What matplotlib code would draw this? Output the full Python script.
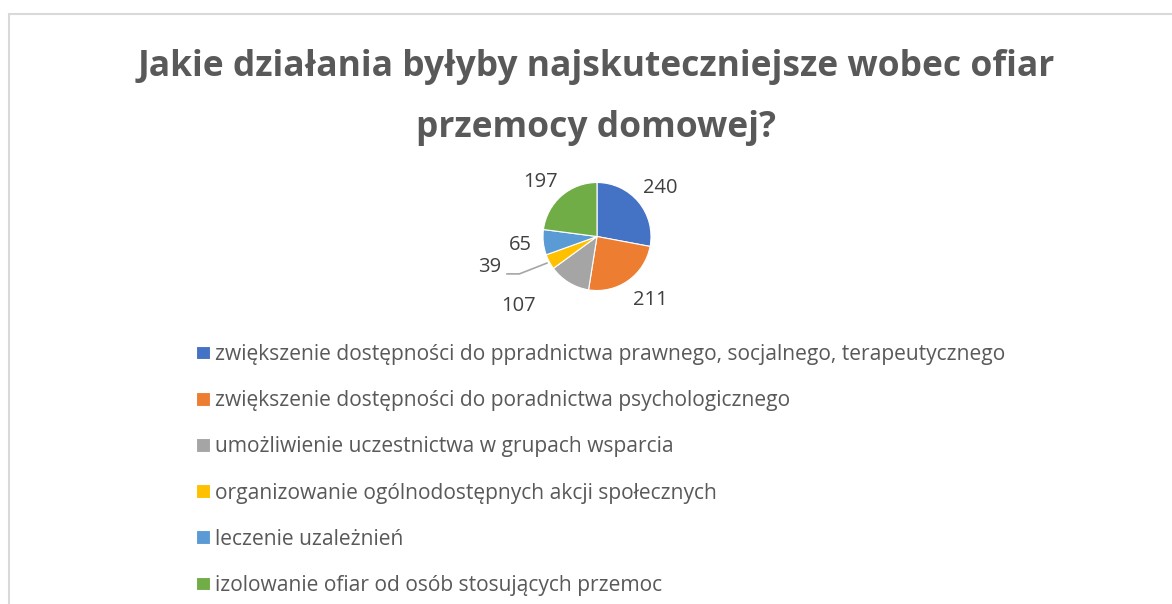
import numpy as np
import matplotlib.pyplot as plt
from matplotlib.patches import Rectangle

title = 'Jakie działania byłyby najskuteczniejsze wobec ofiar\nprzemocy domowej?'
categories = [
    'zwiększenie dostępności do ppradnictwa prawnego, socjalnego, terapeutycznego',
    'zwiększenie dostępności do poradnictwa psychologicznego',
    'umożliwienie uczestnictwa w grupach wsparcia',
    'organizowanie ogólnodostępnych akcji społecznych',
    'leczenie uzależnień',
    'izolowanie ofiar od osób stosujących przemoc',
]
values = [240, 211, 107, 39, 65, 197]
colors = ['#4472C4', '#ED7D31', '#A5A5A5', '#FFC000', '#5B9BD5', '#70AD47']

W, H = 1172, 604
fig = plt.figure(figsize=(W/100, H/100), dpi=100)
plt.rcParams['font.family'] = ['Open Sans', 'DejaVu Sans']

# chart frame (left and top edges visible)
fig.patches.append(Rectangle((9/W, -0.1), 1.2, (H - 14)/H + 0.1, transform=fig.transFigure,
                             fill=False, ec='#D9D9D9', lw=1.5))

fig.text(596/W, 1 - 97.5/H, title, ha='center', va='center', fontsize=25.5,
         fontweight='bold', color='#595959', linespacing=1.9)

# pie: centre (597, 236.5) px, radius 54 px
R = 54
cx, cy = 597, 236.5
ax = fig.add_axes([(cx - R)/W, 1 - (cy + R)/H, 2*R/W, 2*R/H])
wedges, _ = ax.pie(values, colors=colors, startangle=90, counterclock=False,
                   wedgeprops=dict(lw=0.8, ec='white'))
ax.set_xlim(-1, 1)
ax.set_ylim(-1, 1)

dist = [1.48, 1.53, 1.94, 1.95, 1.42, 1.46]
shift = [-2, 5, -17, 0, 0, 5]
total = sum(values)
start = 90.0
for i, v in enumerate(values):
    mid = start - 360*v/total/2
    start -= 360*v/total
    if i == 3:
        # label with leader line
        m = np.deg2rad(mid)
        ex, ey = 1.05*np.cos(m), 1.05*np.sin(m)
        tx, ty = ex - 1.06, ey - 0.07
        ax.text(tx, ty, str(v), ha='center', va='center', fontsize=14.5, color='#404040')
        ax.plot([tx + 0.32, tx + 0.55, ex], [ty - 0.13, ty - 0.13, ey],
                color='#A6A6A6', lw=1.2, clip_on=False, solid_joinstyle='miter')
    else:
        a = np.deg2rad(mid + shift[i])
        tx, ty = dist[i]*np.cos(a), dist[i]*np.sin(a)
        ax.text(tx, ty, str(v), ha='center', va='center', fontsize=14.5, color='#404040')

fig.legend(wedges, categories, loc='upper left', bbox_to_anchor=(196/W, 1 - 344/H),
           frameon=False, fontsize=15.1, labelcolor='#595959', handlelength=0.67,
           handleheight=0.63, handletextpad=0.24, labelspacing=1.2, borderpad=0,
           borderaxespad=0)

fig.savefig('out.png', dpi=100)
